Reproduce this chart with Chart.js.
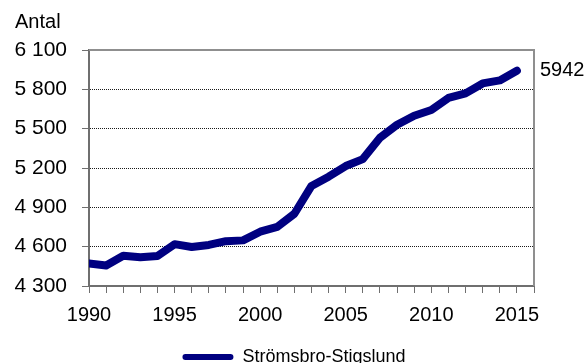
<!DOCTYPE html>
<html lang="sv">
<head>
<meta charset="utf-8">
<title>Strömsbro-Stigslund – antal invånare 1990–2015</title>
<script src="https://cdn.jsdelivr.net/npm/chart.js@4/dist/chart.umd.min.js"></script>
<style>
  html, body { margin: 0; padding: 0; background: #ffffff; }
  #wrap { width: 588px; height: 363px; }
</style>
</head>
<body>
<div id="wrap"><canvas id="chart" width="588" height="363"></canvas></div>
<script>
// Population per year, Strömsbro-Stigslund
const years = [1990, 1991, 1992, 1993, 1994, 1995, 1996, 1997, 1998, 1999,
               2000, 2001, 2002, 2003, 2004, 2005, 2006, 2007, 2008, 2009,
               2010, 2011, 2012, 2013, 2014, 2015];
const population = [4472, 4457, 4531, 4520, 4529, 4619, 4598, 4613, 4642, 4648,
                     4714, 4751, 4851, 5063, 5134, 5215, 5268, 5431, 5530, 5599,
                     5642, 5734, 5769, 5845, 5868, 5942];
const seriesName = 'Strömsbro-Stigslund';
const yAxisTitle = 'Antal';
const yTickValues = [4300, 4600, 4900, 5200, 5500, 5800, 6100];
const xTickLabels = [1990, 1995, 2000, 2005, 2010, 2015];
const xAxisEnd = 2016;

const FONT = '"Liberation Sans", Arial, Helvetica, sans-serif';
const NAVY = '#000080';
const AXIS = '#6f6f6f';
const FRAME = '#8f8f8f';

Chart.defaults.font.family = FONT;
Chart.defaults.color = '#000000';

const fmtThousands = v => String(v).replace(/\B(?=(\d{3})+(?!\d))/g, ' ');
const lastValue = population[population.length - 1];

// Top/right frame of the plot area and the unit text above the y axis
const framePlugin = {
  id: 'frame',
  afterDraw(chart) {
    const { ctx, chartArea: a } = chart;
    ctx.save();
    ctx.strokeStyle = FRAME;
    ctx.lineWidth = 2;
    ctx.beginPath();
    ctx.moveTo(a.left, a.top);
    ctx.lineTo(a.right, a.top);
    ctx.lineTo(a.right, a.bottom);
    ctx.stroke();
    ctx.fillStyle = '#000';
    ctx.font = '20px ' + FONT;
    ctx.textAlign = 'left';
    ctx.textBaseline = 'alphabetic';
    ctx.fillText(yAxisTitle, 15, 28);
    ctx.restore();
  }
};

new Chart(document.getElementById('chart'), {
  type: 'line',
  data: {
    datasets: [{
      label: seriesName,
      data: years.map((yr, i) => ({ x: yr, y: population[i] })),
      borderColor: NAVY,
      backgroundColor: NAVY,
      borderWidth: 8,
      borderCapStyle: 'round',
      borderJoinStyle: 'round',
      pointRadius: 0,
      pointHoverRadius: 0,
      tension: 0,
      fill: false
    }]
  },
  options: {
    responsive: false,
    animation: false,
    devicePixelRatio: 1,
    layout: { padding: { left: 0, right: 0, top: 50, bottom: -13 } },
    plugins: {
      tooltip: { enabled: false },
      title: { display: false },
      legend: {
        position: 'bottom',
        labels: {
          font: { size: 18 },
          color: '#000',
          boxWidth: 51,
          boxHeight: 6,
          padding: 9,
          generateLabels(chart) {
            return Chart.defaults.plugins.legend.labels.generateLabels(chart).map(l => {
              l.fillStyle = NAVY;
              l.strokeStyle = NAVY;
              l.lineWidth = 0;
              l.borderRadius = 3;
              return l;
            });
          }
        }
      }
    },
    scales: {
      x: {
        type: 'linear',
        min: years[0],
        max: xAxisEnd,
        afterFit(scale) { scale.height = 53; },
        ticks: {
          stepSize: 1,
          autoSkip: false,
          maxRotation: 0,
          minRotation: 0,
          padding: 10,
          font: { size: 20 },
          color: '#000',
          callback: v => (xTickLabels.includes(v) ? String(v) : '')
        },
        grid: {
          drawOnChartArea: false,
          drawTicks: true,
          tickLength: 7,
          tickColor: AXIS,
          tickWidth: 1
        },
        border: { display: true, color: AXIS, width: 2 }
      },
      y: {
        position: 'left',
        min: yTickValues[0],
        max: yTickValues[yTickValues.length - 1],
        afterFit(scale) { scale.width = 89; },
        afterBuildTicks(scale) {
          scale.ticks = yTickValues.map(v => ({ value: v }));
        },
        ticks: {
          padding: 15,
          font: { size: 21 },
          color: '#000',
          callback: v => fmtThousands(v)
        },
        grid: {
          color: '#1a1a1a',
          lineWidth: 1,
          drawTicks: true,
          tickLength: 7,
          tickColor: AXIS,
          tickWidth: 1,
          tickBorderDash: []
        },
        border: { display: true, color: AXIS, width: 2, dash: [1, 1] }
      },
      // right-hand axis carrying only the latest value
      yEnd: {
        position: 'right',
        min: yTickValues[0],
        max: yTickValues[yTickValues.length - 1],
        afterFit(scale) { scale.width = 54; },
        afterBuildTicks(scale) {
          scale.ticks = [{ value: lastValue }];
        },
        ticks: {
          padding: 6,
          font: { size: 20 },
          color: '#000',
          callback: v => String(v)
        },
        grid: { drawOnChartArea: false, drawTicks: false },
        border: { display: false }
      }
    }
  },
  plugins: [framePlugin]
});
</script>
</body>
</html>
